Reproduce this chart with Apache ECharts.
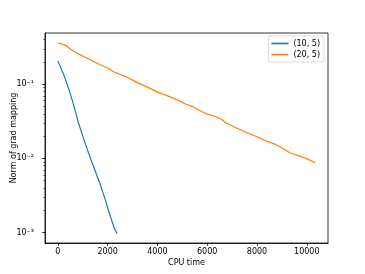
<!DOCTYPE html>
<html><head><meta charset="utf-8">
<script src="https://cdn.jsdelivr.net/npm/echarts@6/dist/echarts.min.js"></script>
<style>html,body{margin:0;padding:0;background:#fff}#c{width:365px;height:274px}</style>
</head><body><div id="c"></div>
<script>
const seriesNames = ['(10, 5)', '(20, 5)'];
const blueX = [0, 270, 491, 712, 813, 982, 1207, 1477, 1678, 1879, 2080, 2281, 2374];
const blueY = [0.207, 0.126, 0.0764, 0.0425, 0.0312, 0.0209, 0.01245, 0.00708, 0.00469, 0.00295, 0.00176, 0.00111, 0.00097];
const orangeX = [0, 338, 471, 805, 1235, 1678, 2012, 2213, 2724, 3155, 3557, 3960, 4362, 4897, 5098, 5420, 5702, 5972, 6306, 6575, 6708, 7110, 7553, 7956, 8358, 8720, 9054, 9324, 9658, 9996, 10336];
const orangeY = [0.364, 0.333, 0.303, 0.259, 0.219, 0.185, 0.166, 0.149, 0.127, 0.107, 0.0929, 0.0796, 0.0708, 0.0597, 0.0545, 0.0500, 0.0443, 0.0399, 0.0370, 0.0337, 0.0307, 0.0263, 0.0225, 0.0199, 0.0173, 0.0156, 0.0135, 0.0119, 0.0109, 0.00993, 0.00871];
const xTicks = [0, 2000, 4000, 6000, 8000, 10000];
const yMajor = [0.001, 0.01, 0.1];
const yMinor = [0.002,0.003,0.004,0.005,0.006,0.007,0.008,0.009,0.02,0.03,0.04,0.05,0.06,0.07,0.08,0.09,0.2,0.3,0.4];
const xLabel = 'CPU time';
const yLabel = 'Norm of grad mapping';

const sup = {'-':'⁻','0':'⁰','1':'¹','2':'²','3':'³','4':'⁴','5':'⁵','6':'⁶','7':'⁷','8':'⁸','9':'⁹'};
function fmt(v){const e=Math.round(Math.log10(v));return '10'+String(e).split('').map(c=>sup[c]).join('');}
const zip=(a,b)=>a.map((x,i)=>[x,b[i]]);
const FONT='DejaVu Sans';
const YMIN=0.000721, YMAX=0.492;
const chart = echarts.init(document.getElementById('c'), null, {renderer:'canvas'});
chart.setOption({
  animation:false,
  backgroundColor:'#fff',
  textStyle:{fontFamily:FONT},
  grid:{left:45,right:37,top:33,bottom:31,show:true,borderColor:'#000',borderWidth:0.8,containLabel:false,outerBoundsMode:'none'},
  legend:{
    data:seriesNames, orient:'vertical', right:41, top:36,
    icon:'rect', itemWidth:17, itemHeight:1.6, itemGap:2,
    padding:[3,4,3,3], borderColor:'#d0d0d0', borderWidth:0.8, borderRadius:2,
    backgroundColor:'rgba(255,255,255,0.8)',
    textStyle:{fontFamily:FONT,fontSize:8,color:'#000',lineHeight:9}
  },
  xAxis:{
    type:'value', min:-517, max:10853,
    name:xLabel, nameLocation:'middle', nameGap:16, nameMoveOverlap:false,
    nameTextStyle:{fontFamily:FONT,fontSize:8,color:'#000'},
    axisLine:{show:true,onZero:false,lineStyle:{color:'#000',width:0.8}},
    axisTick:{show:true,customValues:xTicks,length:2.8,lineStyle:{color:'#000',width:0.8}},
    axisLabel:{customValues:xTicks,formatter:v=>String(v),margin:5,fontFamily:FONT,fontSize:8,color:'#000'},
    splitLine:{show:false}
  },
  yAxis:[{
    type:'log', logBase:10, min:YMIN, max:YMAX,
    name:yLabel, nameLocation:'middle', nameGap:27, nameRotate:90, nameMoveOverlap:false,
    nameTextStyle:{fontFamily:FONT,fontSize:8,color:'#000'},
    axisLine:{show:true,onZero:false,lineStyle:{color:'#000',width:0.8}},
    axisTick:{show:true,customValues:yMajor,length:2.8,lineStyle:{color:'#000',width:0.8}},
    axisLabel:{customValues:yMajor,formatter:fmt,margin:11,fontFamily:FONT,fontSize:8,color:'#000'},
    splitLine:{show:false}
  },{
    type:'log', logBase:10, min:YMIN, max:YMAX, position:'left',
    axisLine:{show:false,onZero:false},
    axisTick:{show:true,customValues:yMinor,length:1.6,lineStyle:{color:'#000',width:0.6}},
    axisLabel:{show:false,customValues:yMinor},
    splitLine:{show:false}
  }],
  series:[
    {name:seriesNames[0],type:'line',data:zip(blueX,blueY),showSymbol:false,symbol:'none',color:'#1f77b4',lineStyle:{width:1.2,color:'#1f77b4'}},
    {name:seriesNames[1],type:'line',data:zip(orangeX,orangeY),showSymbol:false,symbol:'none',color:'#ff7f0e',lineStyle:{width:1.2,color:'#ff7f0e'}}
  ]
});
</script></body></html>
